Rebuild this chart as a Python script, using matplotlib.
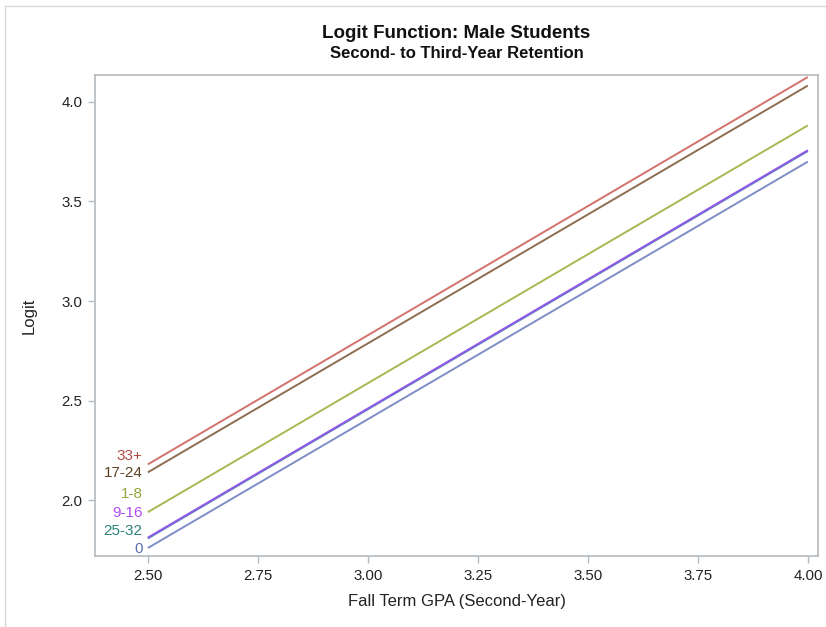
import matplotlib
matplotlib.use("Agg")
import matplotlib.pyplot as plt
from matplotlib.lines import Line2D

plt.rcParams['font.family'] = ['Liberation Sans', 'DejaVu Sans']

# Fitted logit at the two ends of the GPA range, by credit group
gpa = [2.50, 4.00]
groups = ["25-32", "0", "17-24", "33+", "1-8", "9-16"]
logit = {
    "33+":   [2.180, 4.125],
    "17-24": [2.140, 4.082],
    "1-8":   [1.940, 3.882],
    "9-16":  [1.812, 3.757],
    "25-32": [1.808, 3.753],
    "0":     [1.760, 3.700],
}
x_ticks = [2.50, 2.75, 3.00, 3.25, 3.50, 3.75, 4.00]
y_ticks = [2.0, 2.5, 3.0, 3.5, 4.0]

line_colors = {
    "33+": "#D2726B", "17-24": "#8E6D4F", "1-8": "#A9B752",
    "9-16": "#9156EA", "25-32": "#5A8FB0", "0": "#7E8DC6",
}
text_colors = {
    "33+": "#B04A44", "17-24": "#5C4227", "1-8": "#98A33C",
    "9-16": "#B04CF2", "25-32": "#2B8378", "0": "#5B6DB0",
}
# label stacking at the left end of the curves (spread to avoid overlap)
label_y = {"33+": 2.220, "17-24": 2.135, "1-8": 2.030,
           "9-16": 1.935, "25-32": 1.845, "0": 1.757}

fig = plt.figure(figsize=(8.26, 6.27), dpi=100)
ax = fig.add_axes([95 / 826, 1 - 556 / 627, (818 - 95) / 826, (556 - 75) / 627])

for g in groups:
    ax.plot(gpa, logit[g], color=line_colors[g], lw=1.4,
            solid_capstyle='butt', zorder=3)
for g in groups:
    ax.text(2.488, label_y[g], g, color=text_colors[g], fontsize=11,
            ha='right', va='center')

ax.set_xlim(2.38, 4.023)
ax.set_ylim(1.72, 4.135)
ax.set_xticks(x_ticks)
ax.set_xticklabels([f"{v:.2f}" for v in x_ticks])
ax.set_yticks(y_ticks)
ax.set_yticklabels([f"{v:.1f}" for v in y_ticks])

spine_c = "#B4BAC0"
for s in ax.spines.values():
    s.set_color(spine_c)
    s.set_linewidth(1.2)
ax.tick_params(axis='both', colors=spine_c, labelcolor="#222222",
               labelsize=10.8, length=5, width=1, direction='out', pad=4)

ax.set_xlabel("Fall Term GPA (Second-Year)", fontsize=12, color="#222222", labelpad=8)
ax.set_ylabel("Logit", fontsize=12, color="#222222", labelpad=18)

cx = (95 + 818) / 2 / 826
fig.text(cx, 1 - 33 / 627, "Logit Function: Male Students", ha='center',
         va='center', fontsize=13.5, fontweight='bold', color="#111111")
fig.text(cx, 1 - 53 / 627, "Second- to Third-Year Retention", ha='center',
         va='center', fontsize=12, fontweight='bold', color="#111111")

# light outer frame along the top and left edges
frame_c = "#D9D9D9"
fig.add_artist(Line2D([5 / 826, 1], [1 - 6 / 627, 1 - 6 / 627],
                      transform=fig.transFigure, color=frame_c, lw=1))
fig.add_artist(Line2D([5 / 826, 5 / 826], [0, 1 - 6 / 627],
                      transform=fig.transFigure, color=frame_c, lw=1))

fig.savefig("out.png", dpi=100)
